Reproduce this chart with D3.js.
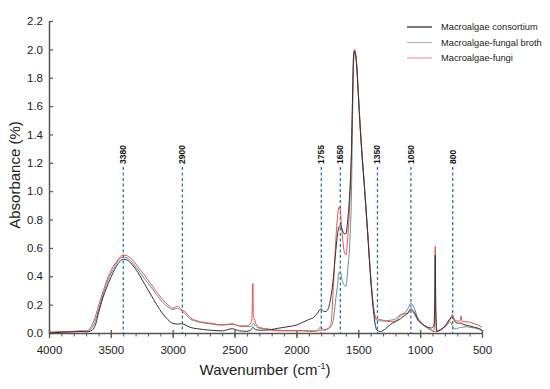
<!DOCTYPE html>
<html>
<head>
<meta charset="utf-8">
<script src="https://cdn.jsdelivr.net/npm/d3@7"></script>
<style>
  body { margin: 0; background: #fff; }
  svg { font-family: "Liberation Sans", Arial, sans-serif; }
</style>
</head>
<body>
<div id="chart"></div>
<script>
// wavenumbers (cm-1)
var wavenumbers = [4000, 3900, 3800, 3750, 3700, 3680, 3650, 3620, 3600, 3560, 3520, 3480, 3440, 3400, 3370, 3330, 3280, 3230, 3180, 3130, 3080, 3040, 3000, 2960, 2930, 2900, 2860, 2800, 2700, 2600, 2520, 2460, 2400, 2370, 2360, 2352, 2348, 2340, 2330, 2300, 2250, 2200, 2150, 2100, 2050, 2000, 1950, 1900, 1860, 1830, 1810, 1800, 1790, 1770, 1750, 1720, 1700, 1685, 1670, 1655, 1645, 1630, 1615, 1600, 1585, 1570, 1555, 1545, 1538, 1530, 1515, 1500, 1485, 1470, 1455, 1440, 1420, 1400, 1385, 1370, 1350, 1320, 1280, 1240, 1200, 1160, 1130, 1100, 1075, 1050, 1020, 990, 950, 910, 890, 882, 878, 874, 866, 850, 820, 790, 760, 740, 725, 705, 690, 675, 670, 660, 630, 600, 560, 520, 500];

var consortium = [0.0, 0.005, 0.008, 0.01, 0.008, 0.01, 0.02, 0.07, 0.14, 0.26, 0.35, 0.43, 0.49, 0.52, 0.515, 0.485, 0.425, 0.35, 0.275, 0.2, 0.135, 0.095, 0.068, 0.063, 0.065, 0.058, 0.04, 0.03, 0.02, 0.015, 0.03, 0.015, 0.012, 0.02, 0.03, 0.04, 0.04, 0.03, 0.025, 0.02, 0.02, 0.025, 0.033, 0.04, 0.047, 0.056, 0.075, 0.095, 0.11, 0.14, 0.165, 0.17, 0.16, 0.15, 0.16, 0.26, 0.4, 0.55, 0.68, 0.75, 0.76, 0.73, 0.7, 0.7, 0.8, 0.98, 1.3, 1.72, 1.96, 1.99, 1.9, 1.68, 1.45, 1.25, 1.08, 0.91, 0.65, 0.38, 0.22, 0.1, 0.02, 0.01, 0.03, 0.06, 0.08, 0.1, 0.12, 0.14, 0.17, 0.15, 0.1, 0.07, 0.045, 0.035, 0.05, 0.2, 0.55, 0.2, 0.01, 0.015, 0.03, 0.06, 0.1, 0.11, 0.09, 0.07, 0.07, 0.07, 0.07, 0.065, 0.055, 0.05, 0.04, 0.03, 0.02];

var fungalBroth = [0.003, 0.008, 0.01, 0.012, 0.012, 0.015, 0.04, 0.1, 0.16, 0.28, 0.38, 0.45, 0.51, 0.535, 0.53, 0.5, 0.445, 0.385, 0.33, 0.27, 0.215, 0.185, 0.165, 0.175, 0.16, 0.135, 0.1, 0.08, 0.065, 0.055, 0.062, 0.05, 0.045, 0.045, 0.05, 0.06, 0.07, 0.065, 0.05, 0.035, 0.03, 0.025, 0.02, 0.018, 0.018, 0.018, 0.018, 0.015, 0.015, 0.015, 0.02, 0.02, 0.02, 0.025, 0.03, 0.045, 0.1, 0.22, 0.32, 0.43, 0.43, 0.37, 0.34, 0.33, 0.45, 0.62, 1.0, 1.6, 1.9, 1.98, 1.92, 1.7, 1.46, 1.26, 1.09, 0.9, 0.65, 0.4, 0.25, 0.14, 0.09, 0.085, 0.085, 0.09, 0.1, 0.13, 0.14, 0.17, 0.21, 0.18, 0.11, 0.07, 0.04, 0.02, 0.01, 0.01, 0.01, 0.01, 0.01, 0.015, 0.03, 0.05, 0.08, 0.05, 0.03, 0.03, 0.035, 0.04, 0.04, 0.04, 0.045, 0.04, 0.035, 0.025, 0.015];

var fungi = [0.005, 0.01, 0.012, 0.015, 0.015, 0.02, 0.06, 0.13, 0.19, 0.3, 0.4, 0.47, 0.52, 0.55, 0.545, 0.52, 0.465, 0.41, 0.35, 0.29, 0.235, 0.2, 0.175, 0.19, 0.165, 0.15, 0.11, 0.085, 0.07, 0.058, 0.065, 0.05, 0.05, 0.07, 0.1, 0.35, 0.12, 0.1, 0.07, 0.04, 0.03, 0.02, 0.016, 0.015, 0.015, 0.015, 0.015, 0.012, 0.012, 0.02, 0.04, 0.045, 0.03, 0.02, 0.025, 0.07, 0.35, 0.6, 0.8, 0.89, 0.86, 0.7, 0.58, 0.55, 0.68, 0.9, 1.25, 1.7, 1.95, 2.0, 1.92, 1.7, 1.47, 1.27, 1.1, 0.9, 0.66, 0.4, 0.25, 0.14, 0.1, 0.095, 0.085, 0.08, 0.085, 0.12, 0.135, 0.14, 0.16, 0.14, 0.09, 0.065, 0.045, 0.02, 0.012, 0.1, 0.61, 0.15, 0.02, 0.02, 0.035, 0.05, 0.09, 0.13, 0.1, 0.085, 0.085, 0.09, 0.12, 0.08, 0.08, 0.075, 0.065, 0.05, 0.04];

var seriesNames = ["Macroalgae consortium", "Macroalgae-fungal broth", "Macroalgae-fungi"];

// marked bands: label text and where the dashed line actually sits
var peakLabels = ["3380", "2900", "1755", "1650", "1350", "1050", "800"];
var peakPositions = [3400, 2922, 1799, 1645, 1345, 1075, 737];

var xTicks = [4000, 3500, 3000, 2500, 2000, 1500, 1000, 500];
var yTicks = [0, 0.2, 0.4, 0.6, 0.8, 1.0, 1.2, 1.4, 1.6, 1.8, 2.0, 2.2];

var colors = ["#333333", "#62918a", "#e5504f"];
var legendColors = ["#333333", "#a9c2ba", "#efa3a3"];

var svg = d3.select("#chart").append("svg")
    .attr("width", 550)
    .attr("height", 389);

var x = d3.scaleLinear().domain([4000, 500]).range([49, 482]);
var y = d3.scaleLinear().domain([0, 2.2]).range([333, 21]);

// y axis, ticks point inward
var yAxis = d3.axisLeft(y)
    .tickValues(yTicks)
    .tickFormat(d3.format(".1f"))
    .tickSizeInner(-4)
    .tickSizeOuter(0)
    .tickPadding(6);
var gy = svg.append("g").attr("transform", "translate(49,0)").call(yAxis);
gy.select(".domain").attr("stroke", "#555").attr("stroke-width", 1.5);
gy.selectAll(".tick line").attr("stroke", "#555").attr("stroke-width", 1.2);
gy.selectAll(".tick text").attr("font-size", "11.5px").attr("fill", "#222");

// x axis, minor ticks every 100
var minor = d3.range(4000, 499, -100);
var gxMinor = svg.append("g").attr("transform", "translate(0,333)")
    .call(d3.axisBottom(x).tickValues(minor).tickFormat("").tickSizeInner(3.5).tickSizeOuter(0));
gxMinor.select(".domain").attr("stroke", "#555").attr("stroke-width", 1.5);
gxMinor.selectAll(".tick line").attr("stroke", "#555").attr("stroke-width", 1);

var gx = svg.append("g").attr("transform", "translate(0,333)")
    .call(d3.axisBottom(x).tickValues(xTicks).tickFormat(d3.format("d")).tickSizeInner(5).tickSizeOuter(0).tickPadding(8));
gx.select(".domain").remove();
gx.selectAll(".tick line").attr("y1", -3).attr("stroke", "#555").attr("stroke-width", 1.3);
gx.selectAll(".tick text").attr("font-size", "11.5px").attr("fill", "#222");

// axis titles
svg.append("text")
    .attr("transform", "translate(20,175) rotate(-90)")
    .attr("text-anchor", "middle")
    .attr("font-size", "15px")
    .attr("fill", "#222")
    .text("Absorbance (%)");

var xt = svg.append("text")
    .attr("x", 265)
    .attr("y", 375)
    .attr("text-anchor", "middle")
    .attr("font-size", "15px")
    .attr("fill", "#222");
xt.append("tspan").text("Wavenumber (cm");
xt.append("tspan").attr("font-size", "9px").attr("dy", -6).text("-1");
xt.append("tspan").attr("dy", 6).text(")");

// dashed band markers
var peaks = svg.append("g");
peakLabels.forEach(function(label, i) {
    var px = x(peakPositions[i]);
    peaks.append("line")
        .attr("x1", px).attr("x2", px)
        .attr("y1", 167).attr("y2", 333)
        .attr("stroke", "#3272b8")
        .attr("stroke-width", 1.3)
        .attr("stroke-dasharray", "3,2.5");
    peaks.append("text")
        .attr("transform", "translate(" + px + ",164) rotate(-90)")
        .attr("dy", "0.35em")
        .attr("font-size", "8.5px")
        .attr("font-weight", "bold")
        .attr("fill", "#111")
        .text(label);
});

// spectra
var allSeries = [consortium, fungalBroth, fungi];
var line = d3.line()
    .x(function(d, i) { return x(wavenumbers[i]); })
    .y(function(d) { return y(d); })
    .curve(d3.curveMonotoneX);

[1, 2, 0].forEach(function(k) {
    svg.append("path")
        .datum(allSeries[k])
        .attr("fill", "none")
        .attr("stroke", colors[k])
        .attr("stroke-width", 1)
        .attr("d", line);
});

// legend
var legend = svg.append("g");
seriesNames.forEach(function(name, i) {
    var ly = 27 + i * 15.5;
    legend.append("line")
        .attr("x1", 407).attr("x2", 432)
        .attr("y1", ly).attr("y2", ly)
        .attr("stroke", legendColors[i])
        .attr("stroke-width", 1.3);
    legend.append("text")
        .attr("x", 441).attr("y", ly)
        .attr("dy", "0.35em")
        .attr("font-size", "9.3px")
        .attr("fill", "#222")
        .text(name);
});
</script>
</body>
</html>
